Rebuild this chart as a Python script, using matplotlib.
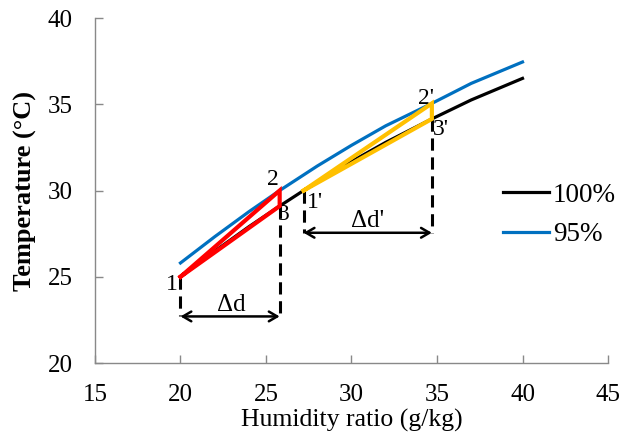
import matplotlib as mpl
mpl.use('Agg')
import matplotlib.pyplot as plt

# saturation lines
d_100 = [20, 22, 24, 25.8, 27.2, 30, 32, 34.7, 37, 40]
t_100 = [25.0, 26.48, 27.9, 29.1, 30.0, 31.68, 32.79, 34.15, 35.25, 36.5]
d_95 = [20, 22, 24, 25.8, 28, 30, 32, 34.7, 37, 40]
t_95 = [25.8, 27.32, 28.77, 30.0, 31.42, 32.62, 33.75, 35.05, 36.21, 37.45]

# process points
cycle_d = [20, 25.8, 25.8]        # 1, 2, 3
cycle_t = [25.0, 30.0, 29.1]
cycle2_d = [27.2, 34.7, 34.7]     # 1', 2', 3'
cycle2_t = [30.0, 35.05, 34.15]
arrow_t = [22.7, 27.55]           # height of the delta-d arrows

plt.rcParams['font.family'] = ['Liberation Serif', 'DejaVu Serif']

fig = plt.figure(figsize=(6.22, 4.32), dpi=100)
ax = fig.add_axes([0.1527, 0.1597, 0.8248, 0.7986])

ax.plot(d_100, t_100, color='black', lw=2.3, label='100%', zorder=3)
ax.plot(d_95, t_95, color='#0070C0', lw=2.3, label='95%', zorder=3)

# triangles
ax.plot(cycle_d + cycle_d[:1], cycle_t + cycle_t[:1], color='#FF0000', lw=3, zorder=4,
        solid_joinstyle='miter')
ax.plot(cycle2_d + cycle2_d[:1], cycle2_t + cycle2_t[:1], color='#FFC000', lw=3, zorder=4,
        solid_joinstyle='miter')

# dashed drop lines
dash = dict(color='black', lw=2.2, dashes=(4, 2.2), zorder=2)
ax.plot([cycle_d[0], cycle_d[0]], [cycle_t[0], arrow_t[0]], **dash)
ax.plot([cycle_d[2], cycle_d[2]], [cycle_t[2], arrow_t[0]], **dash)
ax.plot([cycle2_d[0], cycle2_d[0]], [cycle2_t[0], arrow_t[1]], **dash)
ax.plot([cycle2_d[2], cycle2_d[2]], [cycle2_t[2], arrow_t[1]], **dash)

arr = dict(arrowstyle='<->,head_length=0.6,head_width=0.35', lw=1.8, color='black',
           shrinkA=0, shrinkB=0)
ax.annotate('', xy=(cycle_d[0], arrow_t[0]), xytext=(cycle_d[2], arrow_t[0]), arrowprops=arr)
ax.annotate('', xy=(cycle2_d[0], arrow_t[1]), xytext=(cycle2_d[2], arrow_t[1]), arrowprops=arr)
ax.text(23.0, 23.0, 'Δd', fontsize=18, ha='center', va='baseline')
ax.text(30.96, 27.9, "Δd'", fontsize=18, ha='center', va='baseline')

# point labels
fs = 17
ax.text(19.85, 24.23, '1', fontsize=fs, ha='right', va='baseline')
ax.text(25.38, 30.3, '2', fontsize=fs, ha='center', va='baseline')
ax.text(25.7, 28.29, '3', fontsize=fs, ha='left', va='baseline')
ax.text(27.4, 29.0, "1'", fontsize=fs, ha='left', va='baseline')
ax.text(34.36, 35.0, "2'", fontsize=fs, ha='center', va='baseline')
ax.text(34.77, 33.2, "3'", fontsize=fs, ha='left', va='baseline')

ax.set_xlim(15, 45)
ax.set_ylim(20, 40)
ax.set_xticks([15, 20, 25, 30, 35, 40, 45])
ax.set_yticks([20, 25, 30, 35, 40])
for s in ['top', 'right']:
    ax.spines[s].set_visible(False)
for s in ['left', 'bottom']:
    ax.spines[s].set_color('#898989')
    ax.spines[s].set_linewidth(1.0)
ax.tick_params(direction='in', length=6, width=1.0, color='#898989', labelsize=18)
ax.tick_params(axis='y', pad=16)
ax.tick_params(axis='x', pad=15)

ax.set_xlabel('Humidity ratio (g/kg)', fontsize=18.5)
ax.xaxis.set_label_coords(0.5, -0.183)
ax.xaxis.label.set_verticalalignment('baseline')
ax.set_ylabel('Temperature (°C)', fontsize=19, fontweight='bold')
ax.yaxis.set_label_coords(-0.113, 0.5)

ax.legend(loc='center left', bbox_to_anchor=(0.795, 0.429), frameon=False, fontsize=19.5,
          handlelength=1.7, handletextpad=0.15, labelspacing=0.55, borderpad=0,
          borderaxespad=0)

plt.savefig('out.png', dpi=100)
